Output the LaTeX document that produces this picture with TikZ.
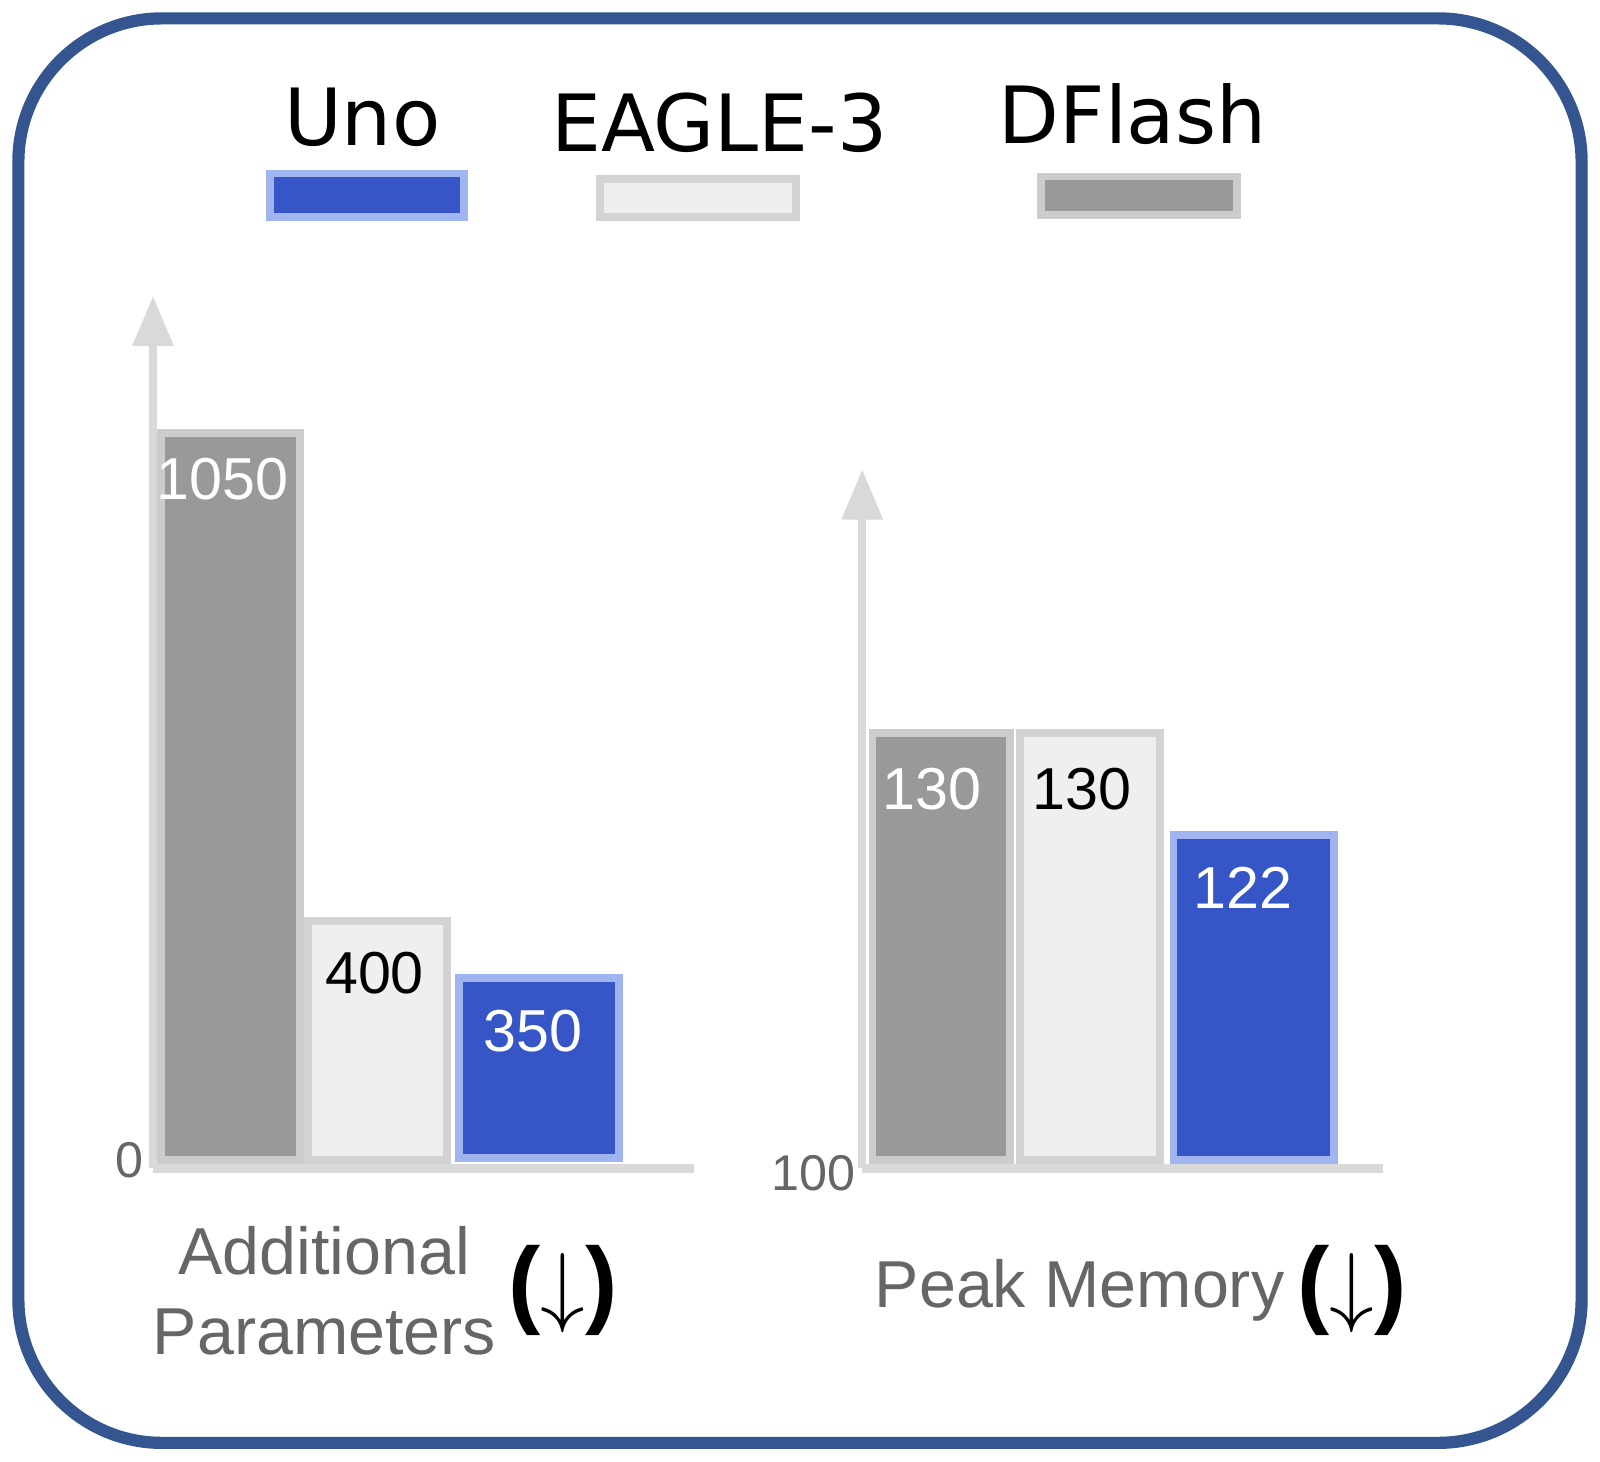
\documentclass[tikz,border=0pt]{standalone}
\usepackage{fontspec}
\setmainfont{Liberation Sans}
\newfontfamily\legfont{DejaVu Sans}
\usetikzlibrary{arrows.meta}
\definecolor{frameblue}{HTML}{34558F}
\definecolor{unoblue}{HTML}{3656C8}
\definecolor{unoedge}{HTML}{A0B4F0}
\definecolor{eagfill}{HTML}{EFEFEF}
\definecolor{eagedge}{HTML}{D3D3D3}
\definecolor{dflfill}{HTML}{999999}
\definecolor{dfledge}{HTML}{CCCCCC}
\definecolor{axisgray}{HTML}{D9D9D9}
\definecolor{titlegray}{HTML}{666666}

\begin{document}
\begin{tikzpicture}[x=0.01cm,y=-0.01cm,
  uno bar/.style={fill=unoblue,draw=unoedge,line width=2.2pt},
  eagle bar/.style={fill=eagfill,draw=eagedge,line width=2.2pt},
  dflash bar/.style={fill=dflfill,draw=dfledge,line width=2.2pt},
  axis/.style={draw=axisgray,line width=2.3pt,-{Triangle[length=14pt,width=11pt]}},
  value/.style={font=\fontsize{16.5}{18}\selectfont,anchor=north},
  legend/.style={font=\legfont\fontsize{22}{24}\selectfont},
  title/.style={font=\fontsize{18.5}{22.5}\selectfont,text=titlegray,align=center},
  down/.style={font=\fontsize{27}{30}\selectfont,inner sep=0pt}]

 \useasboundingbox (0,0) rectangle (1568,1432);
 \draw[frameblue,line width=3.4pt,rounded corners=40pt] (18,18) rectangle (1550,1414);

 % legend
 \node[legend] (luno) at (355,115) {Uno};
 \node[legend] (leagle) at (705,120) {EAGLE-3};
 \node[legend] (ldflash) at (1110,112) {DFlash};
 \draw[uno bar] (265,170) rectangle (455,213);
 \draw[eagle bar] (588,175) rectangle (780,213);
 \draw[dflash bar] (1020,173) rectangle (1212,211);

 % left chart
 \coordinate (lo) at (150,1145);
 \coordinate (ltop) at (150,290);
 \coordinate (lend) at (680,1145);
 \draw[axis] (lo) -- (ltop);
 \draw[draw=axisgray,line width=2.3pt] (lo) -- (lend);
 \draw[dflash bar] (158,424) rectangle (294,1137);
 \draw[eagle bar] (302,903) rectangle (438,1137);
 \draw[uno bar] (450,958) rectangle (607,1135);
 \node[value,text=white] (v1050) at (218,437) {1050};
 \node[value] (v400) at (367,921) {400};
 \node[value,text=white] (v350) at (522,978) {350};
 \node[font=\fontsize{14}{16}\selectfont,text=titlegray] (lzero) at (127,1137) {0};
 \node[title] (ltitle) at (318,1265) {Additional\\Parameters};
 \node[down] (ldown) at (552,1265) {\textbf{(}$\big\downarrow$\textbf{)}};

 % right chart
 \coordinate (ro) at (845,1145);
 \coordinate (rtop) at (845,460);
 \coordinate (rend) at (1355,1145);
 \draw[axis] (ro) -- (rtop);
 \draw[draw=axisgray,line width=2.3pt] (ro) -- (rend);
 \draw[dflash bar] (855,718) rectangle (990,1137);
 \draw[eagle bar] (1000,718) rectangle (1137,1137);
 \draw[uno bar] (1150,818) rectangle (1307,1137);
 \node[value,text=white] (v130a) at (913,740) {130};
 \node[value] (v130b) at (1060,740) {130};
 \node[value,text=white] (v122) at (1218,837) {122};
 \node[font=\fontsize{14}{16}\selectfont,text=titlegray] (rzero) at (797,1150) {100};
 \node[title] (rtitle) at (1058,1265) {Peak Memory};
 \node[down] (rdown) at (1325,1265) {\textbf{(}$\big\downarrow$\textbf{)}};
\end{tikzpicture}
\end{document}
